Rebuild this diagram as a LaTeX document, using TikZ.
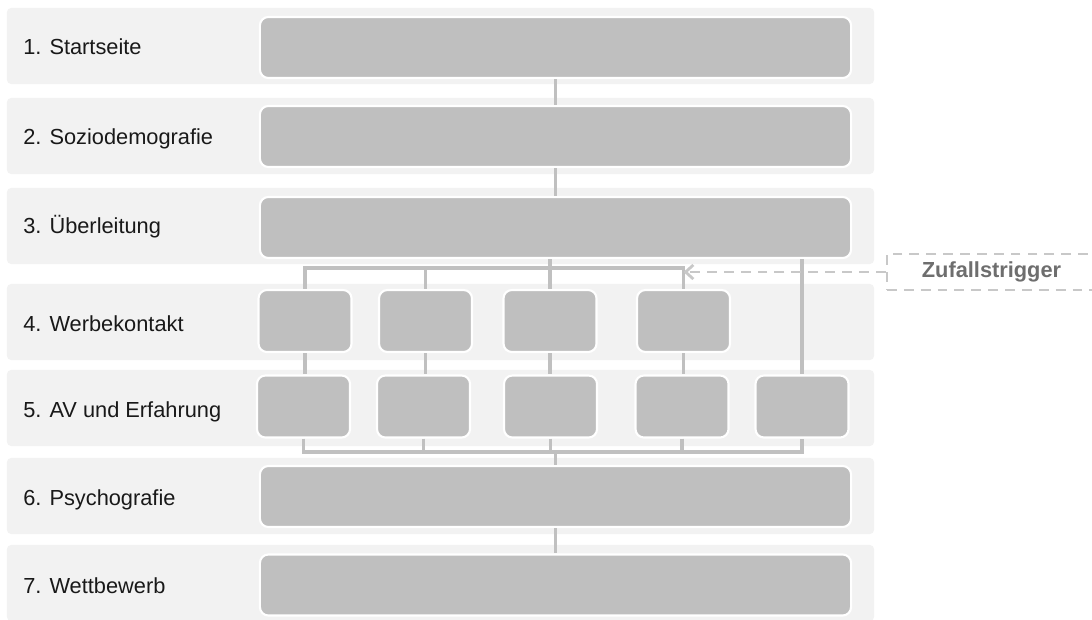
\documentclass[tikz,border=0pt]{standalone}
\usepackage{fontspec}
\setmainfont{Liberation Sans}
\usetikzlibrary{positioning,calc,arrows.meta}
\definecolor{bandgray}{RGB}{242,242,242}
\definecolor{boxgray}{RGB}{191,191,191}
\definecolor{linkgray}{RGB}{192,192,192}
\definecolor{triggray}{RGB}{200,200,200}
\definecolor{trigtext}{RGB}{110,110,110}
\definecolor{labelblack}{RGB}{25,25,25}

\begin{document}
\begin{tikzpicture}[x=0.025cm,y=-0.025cm,
    band/.style={fill=bandgray,rounded corners=3pt,minimum width=21.675cm,minimum height=1.9cm,inner sep=0},
    bigbox/.style={fill=boxgray,draw=white,line width=1.5pt,rounded corners=6pt,minimum width=14.775cm,minimum height=1.525cm,inner sep=0},
    smallbox/.style={fill=boxgray,draw=white,line width=1.5pt,rounded corners=6pt,minimum width=2.325cm,minimum height=1.55cm,inner sep=0},
    rowlabel/.style={anchor=base west,inner sep=0,text=labelblack,font=\fontsize{15.5}{18}\selectfont},
    link/.style={draw=linkgray,line width=2.4pt},
    trigger/.style={draw=triggray,dash pattern=on 7pt off 5pt,line width=2pt}]
    \useasboundingbox (0,0) rectangle (1092,619);
    \clip (0,0) rectangle (1092,619);

    % Bands and step labels
    \foreach \yc [count=\i] in {46,136,226,322,408,496,583}
        \node[band] (band\i) at (440.5,\yc) {};
    \foreach \yb/\txt [count=\i] in {54/1. Startseite, 144/2. Soziodemografie, 233/3. Überleitung, 331/4. Werbekontakt, 417/5. AV und Erfahrung, 505/6. Psychografie, 593/7. Wettbewerb}
        \node[rowlabel] (lab\i) at (23,\yb) {\txt};

    % Full-width steps
    \node[bigbox] (b1) at (555.5,47.5) {};
    \node[bigbox] (b2) at (555.5,136.5) {};
    \node[bigbox] (b3) at (555.5,227.5) {};
    \node[bigbox] (b6) at (555.5,496.5) {};
    \node[bigbox] (b7) at (555.5,585) {};

    % Split steps 4 and 5
    \node[smallbox] (s41) at (305,321) {};
    \node[smallbox] (s42) at (425.5,321) {};
    \node[smallbox] (s43) at (550,321) {};
    \node[smallbox] (s44) at (683.5,321) {};
    \node[smallbox] (s51) at (303.5,406.5) {};
    \node[smallbox] (s52) at (423.5,406.5) {};
    \node[smallbox] (s53) at (550.5,406.5) {};
    \node[smallbox] (s54) at (682,406.5) {};
    \node[smallbox] (s55) at (802,406.5) {};

    % Connectors
    \draw[link] (b1.south) -- (b2.north);
    \draw[link] (b2.south) -- (b3.north);
    \draw[link] (b6.south) -- (b7.north);

    \coordinate (splitA) at (0,268);
    \draw[link] (b3.south -| s43.north) -- (s43.north);
    \draw[link] (s41.north) |- (splitA -| s44.north) -- (s44.north);
    \draw[link] (s42.north) -- (s42.north |- splitA);
    \draw[link] (b3.south -| s55.north) -- (s55.north);

    \foreach \c in {1,...,4}
        \draw[link] (s4\c.south) -- (s4\c.south |- s5\c.north);

    \coordinate (joinB) at (0,452);
    \draw[link] (s51.south) |- (joinB -| s55.south) -- (s55.south);
    \foreach \c in {2,3,4}
        \draw[link] (s5\c.south) -- (s5\c.south |- joinB);
    \draw[link] (joinB -| b6.north) -- (b6.north);

    % Random trigger
    \node[trigger,minimum width=5.225cm,minimum height=0.9cm,inner sep=0,text=trigtext,font=\bfseries\fontsize{15.5}{18}\selectfont] (zt) at (991.5,272) {Zufallstrigger};
    \draw[trigger,-{Straight Barb[length=5.5pt,width=10pt]}] (zt.west) -- (zt.west -| s44.north);
\end{tikzpicture}
\end{document}
